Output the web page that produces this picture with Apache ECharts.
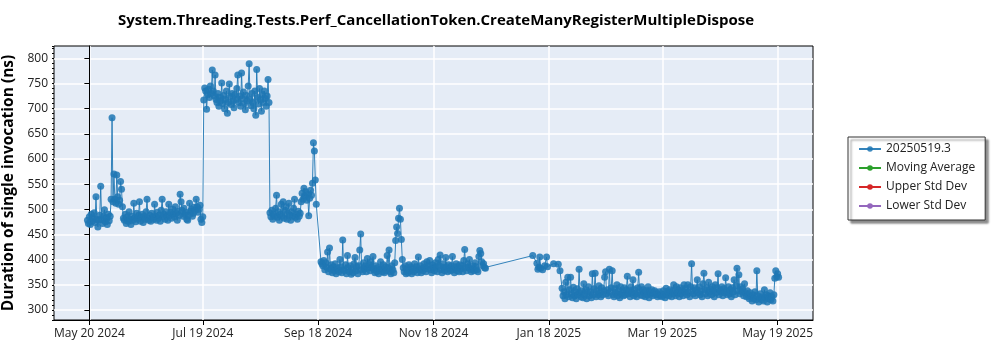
<!DOCTYPE html>
<html>
<head>
<meta charset="utf-8">
<script src="https://cdn.jsdelivr.net/npm/echarts@6/dist/echarts.min.js"></script>
<style>
  html, body { margin: 0; padding: 0; background: #fff; }
  #chart { width: 1000px; height: 350px; }
</style>
</head>
<body>
<div id="chart"></div>
<script>
// x values are days after May 20 2024
const tickDays = [0, 60, 121, 182, 243, 303, 364];
const tickLabels = ['May 20 2024', 'Jul 19 2024', 'Sep 18 2024', 'Nov 18 2024', 'Jan 18 2025', 'Mar 19 2025', 'May 19 2025'];
const yTicks = [300, 350, 400, 450, 500, 550, 600, 650, 700, 750, 800];
const legendNames = ['20250519.3', 'Moving Average', 'Upper Std Dev', 'Lower Std Dev'];

// runs are two per day inside each dense block
const step = 0.5;

const segAStart = -1;
const segA = [478, 472, 485, 470, 490, 476, 482, 493, 474, 525, 480, 465, 478, 488, 546, 479, 472, 486, 499, 475,
  483, 470, 490, 477, 486, 520, 682, 515, 570, 520, 512, 568, 525, 510, 518, 555, 540, 505, 482, 478,
  490, 472, 485, 476, 495, 480, 470, 486, 478, 512, 483, 475, 492, 480, 488, 515, 476, 484, 490, 474,
  486, 480, 495, 520, 482, 478, 488, 476, 492, 484, 480, 510, 486, 478, 494, 482, 488, 476, 498, 520,
  485, 490, 480, 495, 486, 478, 510, 488, 494, 482, 500, 490, 485, 505, 492, 478, 496, 488, 530, 515,
  498, 486, 502, 490, 494, 480, 478, 488, 512, 496, 500, 486, 492, 504, 498, 520, 505, 494, 500, 508,
  480, 474, 485];

const segBStart = 60.5;
const segB = [717, 741, 735, 699, 728, 738, 722, 745, 730, 777, 735, 725, 767, 718, 712, 730, 705, 722, 716, 751,
  710, 726, 700, 718, 735, 691, 712, 749, 724, 708, 730, 715, 702, 728, 718, 740, 767, 712, 725, 705,
  771, 720, 733, 710, 698, 726, 715, 745, 789, 718, 706, 730, 712, 700, 735, 687, 778, 722, 709, 740,
  718, 695, 728, 712, 735, 720, 705, 725, 758, 712];

const segCStart = 95.5;
const segC = [493, 485, 498, 480, 490, 486, 502, 528, 484, 495, 478, 490, 510, 486, 515, 482, 498, 505, 480, 492,
  512, 488, 478, 495, 486, 502, 520, 484, 490, 480, 496, 486, 492, 515, 532, 520, 542, 526, 535, 518,
  530, 487, 522, 538, 528, 552, 632, 616, 558, 510];

const segDStart = 122.5;
const segD = [396, 392, 388, 398, 380, 394, 385, 415, 376, 423, 382, 390, 374, 386, 378, 392, 372, 384, 380, 376,
  400, 386, 374, 439, 380, 378, 390, 372, 408, 384, 376, 388, 371, 380, 374, 392, 404, 378, 386, 372,
  388, 419, 451, 380, 376, 394, 382, 388, 376, 402, 384, 390, 378, 396, 384, 406, 380, 374, 388, 376,
  384, 372, 380, 396, 382, 376, 390, 374, 386, 378, 408, 384, 419, 376, 372, 388, 380, 374, 394, 438,
  465, 452, 482, 502, 480, 440, 400, 384, 376, 388, 372, 380, 374, 390, 378, 386, 372, 382, 376, 392,
  380, 386, 374, 405, 380, 388, 374, 382, 378, 392, 384, 376, 396, 382, 388, 398, 380, 374, 390, 384,
  378, 394, 386, 376, 400, 388, 409, 380, 374, 392, 384, 378, 404, 386, 376, 390, 382, 378, 388, 406,
  380, 374, 386, 392, 378, 384, 376, 390, 382, 388, 376, 398, 420, 384, 378, 392, 386, 400, 380, 376,
  388, 382, 378, 394, 386, 380, 376, 406, 418, 412, 396, 388, 392, 384, 383];

// sparse runs around the new year
const gapDays = [234.5, 236.7, 237.2, 237.7, 238.2, 238.7, 239.7, 240.8, 241.8, 242.3, 245.5, 248.0, 248.9];
const gapValues = [408, 393, 381, 385, 405, 383, 380, 388, 405, 386, 392, 391, 378];

const segEStart = 250;
const segE = [343, 328, 336, 322, 355, 330, 365, 326, 340, 365,
  332, 324, 345, 328, 336, 322, 342, 330, 381, 334,
  326, 338, 324, 352, 330, 340, 322, 335, 346, 328,
  336, 324, 372, 330, 342, 373, 326, 338, 330, 348,
  334, 326, 344, 330, 338, 365, 376, 332, 340, 328,
  381, 336, 344, 378, 330, 326, 342, 334, 350, 328,
  338, 324, 346, 332, 336, 328, 344, 330, 340, 367,
  332, 338, 326, 346, 334, 360, 328, 340, 332, 326,
  344, 375, 336, 330, 346, 328, 340, 334, 326, 338,
  330, 346, 324, 336, 332, 340, 328, 334, 338, 330,
  334, 326, 330, 336, 328, 332, 326, 338, 330, 324,
  343, 330, 336, 328, 340, 334, 326, 338, 350, 332,
  328, 346, 334, 340, 326, 344, 332, 338, 328, 350,
  336, 342, 330, 350, 334, 326, 346, 392, 338, 332,
  344, 328, 340, 360, 334, 346, 330, 338, 326, 352,
  373, 340, 332, 344, 328, 355, 336, 342, 330, 346,
  338, 326, 350, 334, 344, 372, 330, 340, 336, 346,
  328, 342, 334, 364, 338, 330, 346, 332, 340, 326,
  344, 336, 360, 330, 348, 383, 338, 370, 332, 346,
  336, 342, 328, 352, 334, 326, 338, 330, 322, 334,
  326, 318, 330, 322, 336, 320, 378, 328, 316, 324,
  332, 320, 326, 318, 340, 324, 330, 316, 328, 322,
  334, 320, 326, 318, 330, 363, 378, 366, 372, 365];

const toPoints = (start, vals) => vals.map((v, i) => [start + i * step, v]);

const runData = [].concat(
  toPoints(segAStart, segA),
  toPoints(segBStart, segB),
  toPoints(segCStart, segC),
  toPoints(segDStart, segD),
  gapDays.map((d, i) => [d, gapValues[i]]),
  toPoints(segEStart, segE)
);

const font = '"Open Sans", "Noto Sans", sans-serif';

const chart = echarts.init(document.getElementById('chart'), null, { renderer: 'canvas' });

const option = {
  animation: false,
  title: {
    text: 'System.Threading.Tests.Perf_CancellationToken.CreateManyRegisterMultipleDispose',
    left: 431,
    top: 8,
    textAlign: 'center',
    textStyle: { fontFamily: font, fontSize: 15, fontWeight: 'bold', color: '#000' }
  },
  grid: {
    left: 54, top: 46, right: 187, bottom: 30,
    containLabel: false,
    outerBoundsMode: 'none',
    show: true,
    backgroundColor: '#e5ecf6',
    borderColor: '#000',
    borderWidth: 1
  },
  legend: {
    data: legendNames,
    orient: 'vertical',
    left: 848,
    top: 137,
    itemWidth: 22,
    itemHeight: 7,
    itemGap: 7,
    padding: [6, 10, 8, 10],
    backgroundColor: '#fff',
    borderColor: '#333',
    borderWidth: 1,
    borderRadius: 0,
    shadowColor: 'rgba(0,0,0,0.45)',
    shadowBlur: 2,
    shadowOffsetX: 3,
    shadowOffsetY: 3,
    textStyle: { fontFamily: font, fontSize: 12, color: '#222' }
  },
  xAxis: {
    type: 'value',
    min: -18.7,
    max: 382.7,
    axisLine: { show: true, lineStyle: { color: '#000' } },
    axisTick: { show: true, customValues: tickDays, length: 5, lineStyle: { color: '#000' } },
    axisLabel: {
      customValues: tickDays,
      fontFamily: font, fontSize: 12, color: '#222', margin: 8,
      formatter: (v) => tickLabels[tickDays.indexOf(v)] || ''
    },
    splitLine: { show: true, lineStyle: { color: '#fff', width: 1.5 } }
  },
  yAxis: [{
    type: 'value',
    min: 280,
    max: 824.5,
    name: 'Duration of single invocation (ns)',
    nameLocation: 'middle',
    nameGap: 32,
    nameTextStyle: { fontFamily: font, fontSize: 15.5, fontWeight: 'bold', color: '#000' },
    axisLine: { show: true, lineStyle: { color: '#000' } },
    axisTick: { show: true, customValues: yTicks, length: 5, lineStyle: { color: '#000' } },
    axisLabel: { customValues: yTicks, fontFamily: font, fontSize: 12, color: '#222', margin: 6 },
    splitLine: { show: true, lineStyle: { color: '#fff', width: 1.5 } }
  }, {
    // minor ticks every 10 ns
    type: 'value',
    position: 'left',
    offset: 0,
    min: 280,
    max: 824.5,
    interval: 10,
    axisLine: { show: false },
    axisTick: { show: true, length: 2, lineStyle: { color: '#000' } },
    axisLabel: { show: false },
    splitLine: { show: false }
  }],
  series: [
    {
      name: legendNames[0],
      type: 'line',
      data: runData,
      color: '#1f77b4',
      symbol: 'circle',
      symbolSize: 7,
      showSymbol: true,
      lineStyle: { width: 1, color: '#1f77b4', opacity: 0.9 },
      itemStyle: { color: '#1f77b4', opacity: 0.85 }
    },
    { name: legendNames[1], type: 'line', data: [], color: '#2ca02c', symbol: 'circle' },
    { name: legendNames[2], type: 'line', data: [], color: '#d62728', symbol: 'circle' },
    { name: legendNames[3], type: 'line', data: [], color: '#9467bd', symbol: 'circle' }
  ]
};

chart.setOption(option);
</script>
</body>
</html>
